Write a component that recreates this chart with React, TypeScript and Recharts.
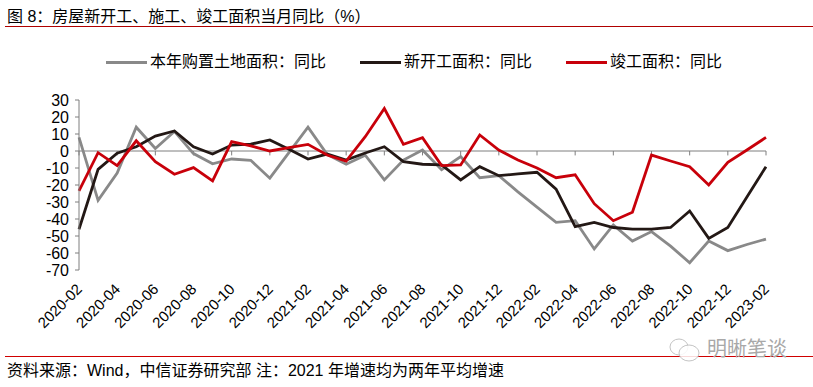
import { LineChart, Line, XAxis, YAxis, ReferenceLine } from 'recharts';

const months = [
  '2020-02', '2020-03', '2020-04', '2020-05', '2020-06', '2020-07', '2020-08', '2020-09', '2020-10', '2020-11', '2020-12',
  '2021-01', '2021-02', '2021-03', '2021-04', '2021-05', '2021-06', '2021-07', '2021-08', '2021-09', '2021-10', '2021-11', '2021-12',
  '2022-01', '2022-02', '2022-03', '2022-04', '2022-05', '2022-06', '2022-07', '2022-08', '2022-09', '2022-10', '2022-11', '2022-12',
  '2023-01', '2023-02',
];

// 本年购置土地面积：同比
const landYoY = [
  8, -29, -13, 14, 1.5, 11.5, -1.5, -7.5, -4.7, -5.5, -16,
  -1, 14, -2, -7.8, -2.5, -17, -5.3, 0.6, -11, -3.3, -15.7, -14.5,
  -24, -33, -42, -41, -57.6, -43.5, -53, -47.4, -56, -65.7, -53, -58.6,
  -55, -51.8,
];

// 新开工面积：同比
const startsYoY = [
  -46, -10.8, -1.3, 2.5, 8.8, 11.8, 2.5, -1.8, 3.5, 4, 6.5,
  1, -4.7, -1.8, -5.3, -1.2, 2.5, -6.3, -7.8, -8.2, -17, -9.2, -14.5,
  -13.5, -12.5, -22.4, -44.5, -42, -45, -46, -46, -45, -35.3, -51.4, -45,
  -27, -9.2,
];

// 竣工面积：同比
const completionsYoY = [
  -23.5, -1, -8.6, 6, -6.3, -13.7, -9.8, -17.6, 5.5, 3, 0,
  2, 3.9, -2.4, -5.9, 8.4, 25, 3.9, 7.8, -8.6, -8.2, 9.4, 0.6,
  -5.3, -10, -15.7, -14, -31, -41, -36, -2.4, -5.9, -9.2, -20, -6.7,
  0.6, 8,
];

const yTicks = [-70, -60, -50, -40, -30, -20, -10, 0, 10, 20, 30];

const series = [
  { key: 'land', name: '本年购置土地面积：同比', color: '#898989' },
  { key: 'starts', name: '新开工面积：同比', color: '#231815' },
  { key: 'completions', name: '竣工面积：同比', color: '#c8000a' },
];

const data = months.map((m, i) => ({
  month: m,
  land: landYoY[i],
  starts: startsYoY[i],
  completions: completionsYoY[i],
}));

const tickMonths = months.filter((_, i) => i % 2 === 0);

const FONT = '"Liberation Sans", Arial, "Noto Sans CJK SC", sans-serif';
const AXIS = '#7f7f7f';

function MonthTick({ x, y, payload }: any) {
  return (
    <g transform={`translate(${x + 4},${y + 12})`}>
      <text textAnchor="end" transform="rotate(-45)" fontSize={15} fontFamily={FONT} fill="#000">
        {payload.value}
      </text>
    </g>
  );
}

export default function App() {
  return (
    <div style={{ position: 'absolute', left: 0, top: 0, width: 813, height: 387, background: '#fff', fontFamily: FONT, color: '#000' }}>
      <div style={{ position: 'absolute', left: 7, top: 8, fontSize: 16, lineHeight: '18px', whiteSpace: 'nowrap' }}>
        图 8：房屋新开工、施工、竣工面积当月同比（%）
      </div>
      <div style={{ position: 'absolute', left: 5, right: 0, top: 26, height: 1, background: '#b00000' }} />

      {/* legend */}
      <div style={{ position: 'absolute', left: 106, top: 53, display: 'flex', gap: 34, fontSize: 16, lineHeight: '18px', whiteSpace: 'nowrap' }}>
        {series.map(s => (
          <div key={s.key} style={{ display: 'flex', alignItems: 'center', gap: 3 }}>
            <span style={{ display: 'inline-block', width: 41, height: 3, background: s.color }} />
            <span>{s.name}</span>
          </div>
        ))}
      </div>

      <div style={{ position: 'absolute', left: 0, top: 0 }}>
        <LineChart width={813} height={387} data={data} margin={{ top: 100, right: 47, bottom: 47, left: 19 }}>
          <XAxis
            dataKey="month"
            ticks={tickMonths}
            interval={0}
            axisLine={false}
            tickLine={false}
            tickSize={6}
            tickMargin={2}
            height={70}
            tick={<MonthTick />}
          />
          <YAxis
            domain={[-70, 30]}
            ticks={yTicks}
            interval={0}
            width={60}
            axisLine={{ stroke: AXIS }}
            tickLine={{ stroke: AXIS }}
            tickSize={4}
            tickMargin={6}
            tick={{ fontSize: 16, fill: '#000', fontFamily: FONT }}
          />
          <ReferenceLine y={0} stroke={AXIS} strokeWidth={1} />
          {tickMonths.map(m => (
            <ReferenceLine key={m} segment={[{ x: m, y: 0 }, { x: m, y: -2.6 }]} stroke={AXIS} strokeWidth={1} />
          ))}
          {series.map(s => (
            <Line
              key={s.key}
              type="linear"
              dataKey={s.key}
              name={s.name}
              stroke={s.color}
              strokeWidth={2.8}
              dot={false}
              isAnimationActive={false}
            />
          ))}
        </LineChart>
      </div>

      <div style={{ position: 'absolute', left: 5, right: 0, top: 356, height: 1, background: '#d00000' }} />
      {/* watermark */}
      <svg style={{ position: 'absolute', left: 668, top: 336 }} width={34} height={28}>
        <ellipse cx={11} cy={11} rx={9} ry={8} fill="rgba(255,255,255,0.85)" stroke="#c4c4c4" strokeWidth={1} />
        <ellipse cx={21} cy={17} rx={10} ry={8} fill="rgba(255,255,255,0.85)" stroke="#c4c4c4" strokeWidth={1} />
      </svg>
      <div style={{ position: 'absolute', left: 707, top: 338, fontSize: 20, lineHeight: '22px', color: '#a8a8a8', whiteSpace: 'nowrap' }}>
        明晰笔谈
      </div>
      <div style={{ position: 'absolute', left: 7, top: 362, fontSize: 16, lineHeight: '18px', whiteSpace: 'nowrap' }}>
        资料来源：Wind，中信证券研究部 注：2021 年增速均为两年平均增速
      </div>
    </div>
  );
}
